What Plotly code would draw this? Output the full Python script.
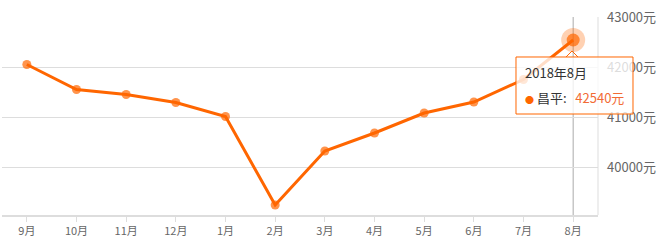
import plotly.graph_objects as go

months = ["9月", "10月", "11月", "12月", "1月", "2月", "3月", "4月", "5月", "6月", "7月", "8月"]
prices = [42050, 41550, 41450, 41290, 41010, 39240, 40320, 40680, 41080, 41300, 41750, 42540]
ytick_vals = [40000, 41000, 42000, 43000]
ytick_text = [f"{v}元" for v in ytick_vals]
series_name = "昌平"
tip_title = "2018年8月"

ORANGE = "#ff6600"
VALUE_COLOR = "#f26b35"
FONT = "Noto Sans CJK SC, Microsoft YaHei, sans-serif"

fig = go.Figure()
fig.add_trace(go.Scatter(
    x=months, y=prices, mode="lines+markers", name=series_name,
    line=dict(color=ORANGE, width=3),
    marker=dict(size=[9] * (len(months) - 1) + [13], color=ORANGE, line=dict(width=0)),
    showlegend=False, cliponaxis=False))
# halo on highlighted point
fig.add_trace(go.Scatter(
    x=[months[-1]], y=[prices[-1]], mode="markers",
    marker=dict(size=24, color="rgba(255,102,0,0.3)", line=dict(width=0)),
    hoverinfo="skip", showlegend=False, cliponaxis=False))

# crosshair
fig.add_shape(type="line", xref="x", yref="paper", x0=months[-1], x1=months[-1],
              y0=0, y1=1, line=dict(color="#aaaaaa", width=1), layer="below")
# right border
fig.add_shape(type="line", xref="paper", yref="paper", x0=1, x1=1, y0=0, y1=1,
              line=dict(color="#dddddd", width=1))

# tooltip box (semi-transparent, like the original)
fig.add_shape(type="rect", xref="paper", yref="paper",
              x0=0.8624, x1=1.0587, y0=0.5101, y1=0.798,
              fillcolor="rgba(255,255,255,0.78)", line=dict(color=ORANGE, width=1),
              layer="above")
# tooltip pointer notch
fig.add_shape(type="path", xref="paper", yref="paper",
              path="M 0.9463 0.798 L 0.9564 0.8283 L 0.9664 0.798",
              line=dict(color=ORANGE, width=1), layer="above")
# tooltip title
fig.add_annotation(
    x=months[-1], y=prices[-1], xref="x", yref="y",
    text=tip_title, showarrow=True, arrowcolor="rgba(0,0,0,0)",
    ax=-50, ay=32, xanchor="left", yanchor="middle",
    font=dict(family=FONT, size=13, color="#333"))
# tooltip value line
fig.add_annotation(
    x=months[-1], y=prices[-1], xref="x", yref="y",
    text=(f"<span style='color:{ORANGE};font-size:9px'>●</span> {series_name}:"
          f"&nbsp;&nbsp;&nbsp;<span style='color:{VALUE_COLOR}'>{prices[-1]}元</span>"),
    showarrow=True, arrowcolor="rgba(0,0,0,0)",
    ax=-50, ay=57, xanchor="left", yanchor="middle",
    font=dict(family=FONT, size=13, color="#333"))

fig.update_layout(
    width=663, height=242,
    margin=dict(l=2, r=65, t=17, b=27),
    paper_bgcolor="white", plot_bgcolor="white",
    font=dict(family=FONT, size=12, color="#666"),
    xaxis=dict(type="category", categoryorder="array", categoryarray=months,
               range=[-0.5, 11.5], showgrid=False,
               showline=True, linecolor="#dddddd", linewidth=2,
               ticks="outside", ticklen=5, tickcolor="#dddddd",
               tickfont=dict(size=11, color="#666"), fixedrange=True),
    yaxis=dict(side="right", range=[39040, 43000], tickvals=ytick_vals,
               ticktext=ytick_text, showgrid=True, gridcolor="#dddddd",
               gridwidth=1, zeroline=False, showline=False, ticks="",
               tickfont=dict(size=13, color="#666"), ticklabelstandoff=8),
)

fig.write_html("out.html")
